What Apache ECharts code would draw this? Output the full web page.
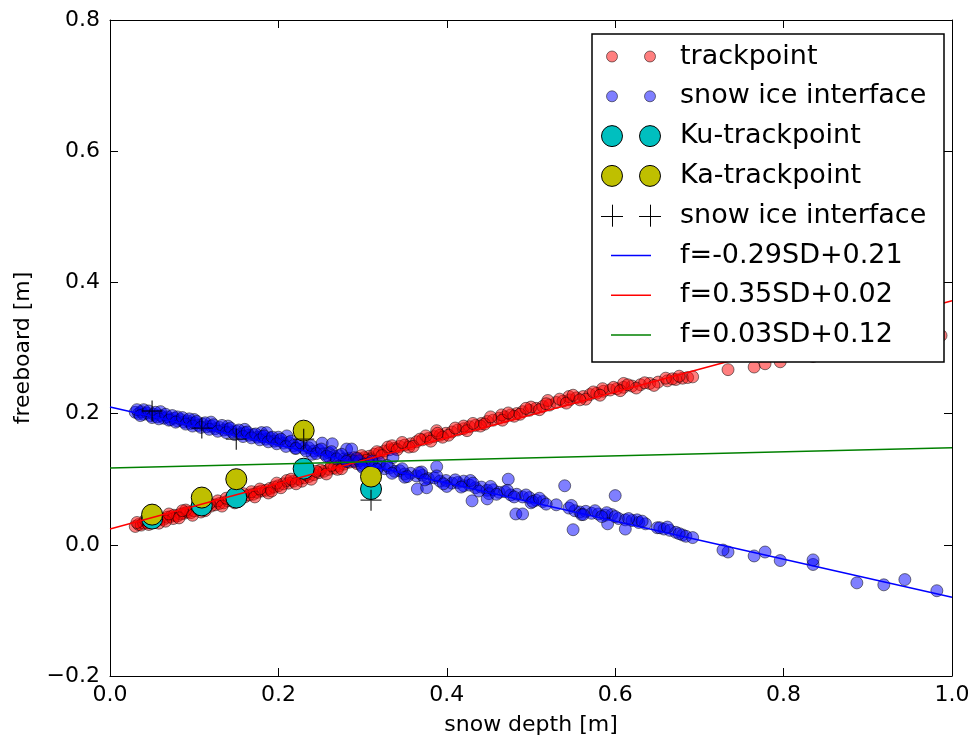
<!DOCTYPE html>
<html>
<head>
<meta charset="utf-8">
<script src="https://cdn.jsdelivr.net/npm/echarts@6/dist/echarts.min.js"></script>
<style>
html,body{margin:0;padding:0;background:#fff;}
#chart{width:974px;height:747px;}
</style>
</head>
<body>
<div id="chart"></div>
<script>
// ---- data ----
var xTicks = [0.0, 0.2, 0.4, 0.6, 0.8, 1.0];
var yTicks = [-0.2, 0.0, 0.2, 0.4, 0.6, 0.8];

var trackX = [0.030,0.034,0.037,0.040,0.044,0.048,0.052,0.056,0.060,0.064,0.068,0.072,0.076,0.080,0.084,0.088,0.092,0.096,0.100,0.105,0.110,0.115,0.120,0.125,0.130,0.135,0.140,0.145,0.150,0.155,0.160,0.165,0.170,0.175,0.180,0.185,0.190,0.195,0.200,0.206,0.212,0.218,0.224,0.230,0.236,0.242,0.248,0.254,0.260,0.266,0.272,0.278,0.284,0.290,0.296,0.302,0.308,0.314,0.320,0.326,0.332,0.338,0.344,0.350,0.357,0.364,0.371,0.378,0.385,0.392,0.399,0.406,0.413,0.420,0.427,0.434,0.441,0.448,0.455,0.462,0.469,0.476,0.483,0.490,0.498,0.506,0.514,0.522,0.530,0.538,0.546,0.554,0.562,0.570,0.578,0.586,0.594,0.602,0.610,0.620,0.630,0.641,0.651,0.662,0.672,0.680,0.686,0.692,0.734,0.765,0.778,0.796,0.835,0.987,
  0.042,0.058,0.075,0.090,0.108,0.128,0.148,0.168,0.188,0.210,0.228,0.250,0.270,0.290,0.310,0.330,0.355,0.375,0.388,0.395,0.420,0.440,0.465,0.480,0.500,0.520,0.545,0.565,0.585,0.610,0.625,0.660,
  0.032,0.046,0.054,0.066,0.070,0.082,0.086,0.098,0.103,0.113,0.118,0.133,0.138,0.152,0.158,0.172,0.178,0.192,0.198,0.203,0.215,0.221,0.233,0.239,0.245,0.257,0.263,0.275,0.281,0.293,0.299,0.305,0.317,0.323,0.335,0.341,0.347,0.360,0.368,0.381,0.389,0.402,0.410,0.424,0.431,0.445,0.452,0.466,0.473,0.487,0.494,0.510,0.518,0.534,0.542,0.550,0.558,0.574,0.582,0.598,0.606,0.615,0.635,0.646,0.668,0.676];
var trackY = [0.028,0.031,0.030,0.033,0.034,0.036,0.035,0.038,0.040,0.039,0.042,0.043,0.045,0.044,0.047,0.048,0.050,0.049,0.052,0.054,0.055,0.058,0.059,0.061,0.063,0.064,0.067,0.068,0.070,0.072,0.073,0.076,0.077,0.080,0.082,0.083,0.086,0.088,0.090,0.093,0.094,0.097,0.100,0.102,0.104,0.107,0.110,0.112,0.115,0.117,0.120,0.123,0.126,0.128,0.131,0.133,0.135,0.138,0.140,0.143,0.145,0.147,0.150,0.152,0.154,0.157,0.160,0.162,0.165,0.167,0.170,0.172,0.175,0.177,0.180,0.182,0.185,0.188,0.190,0.193,0.195,0.198,0.200,0.203,0.205,0.208,0.211,0.213,0.217,0.219,0.221,0.224,0.226,0.229,0.231,0.234,0.236,0.238,0.240,0.242,0.244,0.246,0.248,0.250,0.252,0.254,0.255,0.256,0.267,0.271,0.276,0.279,0.287,0.319,
  0.038,0.033,0.040,0.053,0.050,0.067,0.064,0.081,0.079,0.098,0.097,0.114,0.115,0.133,0.131,0.149,0.149,0.166,0.174,0.164,0.181,0.181,0.198,0.196,0.210,0.220,0.226,0.222,0.238,0.246,0.239,0.254,
  0.034,0.031,0.041,0.036,0.047,0.041,0.052,0.045,0.058,0.052,0.063,0.059,0.071,0.066,0.078,0.073,0.085,0.082,0.094,0.087,0.100,0.093,0.107,0.100,0.112,0.108,0.121,0.116,0.129,0.124,0.136,0.129,0.142,0.136,0.151,0.145,0.156,0.150,0.161,0.158,0.170,0.167,0.178,0.174,0.185,0.184,0.195,0.190,0.201,0.199,0.208,0.206,0.215,0.222,0.216,0.228,0.221,0.233,0.228,0.240,0.235,0.244,0.247,0.243,0.253,0.257];

var sifX = [0.030,0.034,0.037,0.040,0.044,0.048,0.052,0.056,0.060,0.064,0.068,0.072,0.076,0.080,0.084,0.088,0.092,0.096,0.100,0.105,0.110,0.115,0.120,0.125,0.130,0.135,0.140,0.145,0.150,0.155,0.160,0.165,0.170,0.175,0.180,0.185,0.190,0.195,0.200,0.206,0.212,0.218,0.224,0.230,0.236,0.242,0.248,0.254,0.260,0.266,0.272,0.278,0.284,0.290,0.296,0.302,0.308,0.314,0.320,0.326,0.332,0.338,0.344,0.350,0.357,0.364,0.371,0.378,0.385,0.392,0.399,0.406,0.413,0.420,0.427,0.434,0.441,0.448,0.455,0.462,0.469,0.476,0.483,0.490,0.498,0.506,0.514,0.530,0.545,0.552,0.558,0.565,0.572,0.580,0.588,0.596,0.604,0.612,0.620,0.628,0.636,0.650,0.658,0.665,0.672,0.680,0.684,0.692,0.734,0.765,0.778,0.796,0.835,0.835,0.887,0.919,0.944,0.982,
  0.040,0.060,0.080,0.100,0.120,0.140,0.160,0.180,0.200,0.220,0.240,0.260,0.300,0.320,0.350,0.370,0.400,0.420,0.450,0.500,0.560,0.590,
  0.186,0.210,0.252,0.264,0.281,0.287,0.336,0.365,0.376,0.388,0.428,0.430,0.448,0.473,0.482,0.490,0.540,0.550,0.591,0.600,0.612,0.626,0.653,0.728,
  0.032,0.036,0.046,0.050,0.054,0.058,0.066,0.070,0.074,0.078,0.086,0.090,0.094,0.098,0.103,0.108,0.113,0.118,0.123,0.128,0.133,0.138,0.143,0.148,0.153,0.158,0.163,0.168,0.173,0.178,0.183,0.188,0.193,0.198,0.203,0.209,0.215,0.221,0.227,0.233,0.239,0.245,0.251,0.257,0.263,0.269,0.275,0.281,0.293,0.299,0.311,0.317,0.329,0.335,0.347,0.353,0.367,0.374,0.388,0.396,0.410,0.417,0.431,0.438,0.452,0.459,0.472,0.480,0.494,0.502,0.510,0.518,0.548,0.562,0.576,0.584,0.600,0.616,0.632,0.662,0.676];
var sifY = [0.202,0.200,0.203,0.199,0.201,0.197,0.199,0.195,0.197,0.193,0.195,0.191,0.193,0.189,0.191,0.187,0.189,0.185,0.186,0.182,0.184,0.180,0.181,0.177,0.179,0.175,0.176,0.172,0.173,0.169,0.171,0.167,0.168,0.164,0.165,0.161,0.163,0.158,0.159,0.155,0.156,0.151,0.152,0.147,0.148,0.143,0.144,0.139,0.140,0.135,0.136,0.131,0.132,0.127,0.128,0.123,0.124,0.119,0.120,0.116,0.117,0.112,0.113,0.108,0.109,0.105,0.106,0.101,0.102,0.097,0.098,0.094,0.095,0.090,0.091,0.087,0.088,0.083,0.084,0.080,0.081,0.076,0.077,0.073,0.072,0.068,0.066,0.061,0.056,0.052,0.050,0.051,0.048,0.047,0.045,0.046,0.040,0.038,0.037,0.034,0.032,0.026,0.024,0.022,0.019,0.015,0.013,0.011,-0.011,-0.017,-0.011,-0.024,-0.030,-0.023,-0.058,-0.061,-0.053,-0.070,
  0.206,0.203,0.195,0.191,0.187,0.181,0.176,0.171,0.164,0.147,0.138,0.134,0.118,0.126,0.103,0.111,0.089,0.097,0.078,0.064,0.046,0.049,
  0.171,0.166,0.155,0.154,0.146,0.146,0.133,0.085,0.087,0.119,0.098,0.067,0.070,0.100,0.047,0.047,0.090,0.023,0.032,0.075,0.024,0.038,0.026,-0.008,
  0.206,0.197,0.204,0.194,0.202,0.192,0.199,0.190,0.197,0.187,0.194,0.184,0.192,0.181,0.188,0.179,0.186,0.176,0.183,0.173,0.182,0.171,0.178,0.168,0.175,0.165,0.172,0.163,0.169,0.160,0.166,0.157,0.164,0.154,0.161,0.150,0.158,0.147,0.155,0.143,0.151,0.139,0.146,0.135,0.142,0.131,0.138,0.127,0.132,0.121,0.128,0.115,0.121,0.109,0.116,0.104,0.110,0.099,0.105,0.093,0.099,0.088,0.094,0.082,0.089,0.077,0.083,0.073,0.076,0.066,0.071,0.062,0.060,0.046,0.052,0.043,0.043,0.040,0.036,0.027,0.017];

var kuX = [0.050, 0.109, 0.150, 0.230, 0.310];
var kuY = [0.040, 0.060, 0.072, 0.116, 0.085];
var kaX = [0.050, 0.109, 0.150, 0.230, 0.310];
var kaY = [0.046, 0.072, 0.100, 0.174, 0.104];
var crossX = [0.050, 0.109, 0.150, 0.230, 0.310];
var crossY = [0.204, 0.178, 0.161, 0.161, 0.068];

var fitBlue = [[0.0, 0.210], [1.0, -0.080]];
var fitRed = [[0.0, 0.024], [1.0, 0.372]];
var fitGreen = [[0.0, 0.117], [1.0, 0.148]];

var legendLabels = ['trackpoint', 'snow ice interface', 'Ku-trackpoint', 'Ka-trackpoint',
  'snow ice interface', 'f=-0.29SD+0.21', 'f=0.35SD+0.02', 'f=0.03SD+0.12'];

// ---- build ----
function zip(xs, ys) { return xs.map(function (x, i) { return [x, ys[i]]; }); }
var FONT = 'DejaVu Sans';
var plusPath = 'path://M0,-10 L0,10 M-10,0 L10,0';

var chart = echarts.init(document.getElementById('chart'), null, { renderer: 'canvas' });

function fmt(v) {
  var s = Math.abs(v).toFixed(1);
  return v < -1e-9 ? '\u2212' + s : s;
}

var axisCommon = {
  axisLine: { show: true, onZero: false, lineStyle: { color: '#000', width: 1 } },
  axisTick: { show: true, inside: true, length: 8, lineStyle: { color: '#000', width: 1 } },
  splitLine: { show: false }
};

var legendGraphics = [];
var gx = 592, gy = 34, gw = 352, gh = 328;
legendGraphics.push({ type: 'rect', shape: { x: gx, y: gy, width: gw, height: gh },
  style: { fill: '#fff', stroke: '#000', lineWidth: 1.5 }, z: 100 });
var rowY0 = 56.5, rowStep = 39.8, m1 = 612, m2 = 650, tx = 680;
var markerDefs = [
  { kind: 'circle', r: 5.5, fill: '#ff0000', opacity: 0.5 },
  { kind: 'circle', r: 5.5, fill: '#0000ff', opacity: 0.5 },
  { kind: 'circle', r: 10.5, fill: '#00bfbf', opacity: 1 },
  { kind: 'circle', r: 10.5, fill: '#bfbf00', opacity: 1 },
  { kind: 'plus' },
  { kind: 'line', color: '#0000ff' },
  { kind: 'line', color: '#ff0000' },
  { kind: 'line', color: '#008000' }
];
legendLabels.forEach(function (label, i) {
  var y = rowY0 + i * rowStep;
  var d = markerDefs[i];
  if (d.kind === 'circle') {
    [m1, m2].forEach(function (cx) {
      legendGraphics.push({ type: 'circle', shape: { cx: cx, cy: y, r: d.r },
        style: { fill: d.fill, stroke: '#000', lineWidth: 1, opacity: d.opacity }, z: 101 });
    });
  } else if (d.kind === 'plus') {
    [m1, m2].forEach(function (cx) {
      legendGraphics.push({ type: 'line', shape: { x1: cx - 11, y1: Math.round(y) + 0.5, x2: cx + 11, y2: Math.round(y) + 0.5 },
        style: { stroke: '#000', lineWidth: 1 }, z: 101 });
      legendGraphics.push({ type: 'line', shape: { x1: cx + 0.5, y1: y - 11, x2: cx + 0.5, y2: y + 11 },
        style: { stroke: '#000', lineWidth: 1 }, z: 101 });
    });
  } else {
    legendGraphics.push({ type: 'line', shape: { x1: m1 - 1, y1: y, x2: m2 + 1, y2: y },
      style: { stroke: d.color, lineWidth: 1.5 }, z: 101 });
  }
  legendGraphics.push({ type: 'text', x: tx, y: y,
    style: { text: label, fill: '#000', font: '27px "' + FONT + '"', textVerticalAlign: 'middle', verticalAlign: 'middle' }, z: 101 });
});

var option = {
  backgroundColor: '#fff',
  animation: false,
  textStyle: { fontFamily: FONT },
  grid: { left: 110, top: 20, right: 22, bottom: 71, containLabel: false, outerBoundsMode: 'none' },
  xAxis: [
    Object.assign({}, axisCommon, {
      type: 'value', position: 'bottom', min: xTicks[0], max: xTicks[xTicks.length - 1], interval: 0.2,
      name: 'snow depth [m]', nameLocation: 'middle', nameGap: 38,
      nameTextStyle: { fontFamily: FONT, fontSize: 22, color: '#000' },
      axisLabel: { show: true, margin: 8, fontFamily: FONT, fontSize: 22, color: '#000', formatter: fmt }
    }),
    Object.assign({}, axisCommon, {
      type: 'value', position: 'top', min: xTicks[0], max: xTicks[xTicks.length - 1], interval: 0.2,
      axisLabel: { show: false }
    })
  ],
  yAxis: [
    Object.assign({}, axisCommon, {
      type: 'value', position: 'left', min: yTicks[0], max: yTicks[yTicks.length - 1], interval: 0.2,
      name: 'freeboard [m]', nameLocation: 'middle', nameGap: 76, nameRotate: 90,
      nameTextStyle: { fontFamily: FONT, fontSize: 22, color: '#000' },
      axisLabel: { show: true, margin: 10, fontFamily: FONT, fontSize: 22, color: '#000', formatter: fmt }
    }),
    Object.assign({}, axisCommon, {
      type: 'value', position: 'right', min: yTicks[0], max: yTicks[yTicks.length - 1], interval: 0.2,
      axisLabel: { show: false }
    })
  ],
  graphic: legendGraphics,
  series: [
    { name: 'trackpoint', type: 'scatter', data: zip(trackX, trackY), symbol: 'circle', symbolSize: 12,
      itemStyle: { color: '#ff0000', borderColor: '#000', borderWidth: 1, opacity: 0.5 },
      emphasis: { disabled: true }, z: 2 },
    { name: 'snow ice interface', type: 'scatter', data: zip(sifX, sifY), symbol: 'circle', symbolSize: 12,
      itemStyle: { color: '#0000ff', borderColor: '#000', borderWidth: 1, opacity: 0.5 },
      emphasis: { disabled: true }, z: 2 },
    { name: 'Ku-trackpoint', type: 'scatter', data: zip(kuX, kuY), symbol: 'circle', symbolSize: 21,
      itemStyle: { color: '#00bfbf', borderColor: '#000', borderWidth: 1, opacity: 1 },
      emphasis: { disabled: true }, z: 3 },
    { name: 'Ka-trackpoint', type: 'scatter', data: zip(kaX, kaY), symbol: 'circle', symbolSize: 21,
      itemStyle: { color: '#bfbf00', borderColor: '#000', borderWidth: 1, opacity: 1 },
      emphasis: { disabled: true }, z: 4 },
    { name: 'snow ice interface +', type: 'scatter', data: zip(crossX, crossY), symbol: plusPath, symbolSize: 21,
      itemStyle: { color: 'rgba(0,0,0,0)', borderColor: '#000', borderWidth: 1.3 },
      emphasis: { disabled: true }, z: 6 },
    { name: 'f=-0.29SD+0.21', type: 'line', data: fitBlue, showSymbol: false, symbol: 'none',
      lineStyle: { color: '#0000ff', width: 1.5 }, emphasis: { disabled: true }, z: 5 },
    { name: 'f=0.35SD+0.02', type: 'line', data: fitRed, showSymbol: false, symbol: 'none',
      lineStyle: { color: '#ff0000', width: 1.5 }, emphasis: { disabled: true }, z: 5 },
    { name: 'f=0.03SD+0.12', type: 'line', data: fitGreen, showSymbol: false, symbol: 'none',
      lineStyle: { color: '#008000', width: 1.5 }, emphasis: { disabled: true }, z: 5 }
  ]
};
chart.setOption(option);
</script>
</body>
</html>
